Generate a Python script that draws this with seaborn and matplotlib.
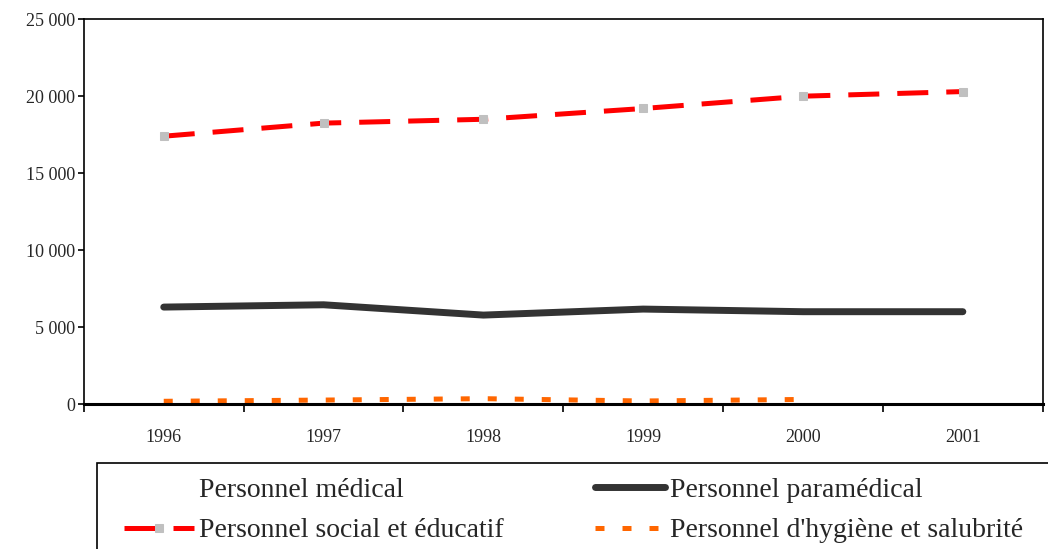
import numpy as np
import pandas as pd
import matplotlib
matplotlib.use('Agg')
import matplotlib.pyplot as plt
import matplotlib.ticker as mticker
from matplotlib.patches import Rectangle
import seaborn as sns

# --------------------------
# Data
# --------------------------
years = [1996, 1997, 1998, 1999, 2000, 2001]
medical = [np.nan, np.nan, np.nan, np.nan, np.nan, np.nan]   # no visible line
paramedical = [6300, 6450, 5780, 6170, 6000, 6000]
social = [17400, 18250, 18500, 19200, 20000, 20300]
hygiene = [180, 260, 350, 200, 300, np.nan]

labels = ['Personnel médical', 'Personnel paramédical',
          'Personnel social et éducatif', "Personnel d'hygiène et salubrité"]

df = pd.DataFrame({'year': years, 'medical': medical, 'paramedical': paramedical,
                   'social': social, 'hygiene': hygiene})

# --------------------------
# Style
# --------------------------
sns.set_theme(style='white')
plt.rcParams['font.family'] = ['Liberation Serif', 'DejaVu Serif']

fig = plt.figure(figsize=(10.48, 5.49), dpi=100)
ax = fig.add_axes([0.080, 0.264, 0.915, 0.701])

sns.lineplot(data=df, x='year', y='medical', ax=ax, color='white', linewidth=0,
             label=labels[0])
sns.lineplot(data=df, x='year', y='paramedical', ax=ax, color='#333333',
             linewidth=5, solid_capstyle='round', label=labels[1])
sns.lineplot(data=df, x='year', y='social', ax=ax, color='#FF0000', linewidth=3.6,
             marker='s', markersize=5.5, markerfacecolor='#C0C0C0',
             markeredgecolor='#C0C0C0', label=labels[2])
ax.lines[-1].set_dashes([6.2, 3.6])
ax.lines[-1].set_dash_capstyle('butt')
sns.lineplot(data=df, x='year', y='hygiene', ax=ax, color='#FF6600', linewidth=3.6,
             label=labels[3], zorder=1)
ax.lines[-1].set_dashes([1.8, 3.6])
ax.lines[-1].set_dash_capstyle('butt')

# Axes
ax.set_xlim(1995.5, 2001.5)
ax.set_ylim(0, 25000)
ax.set_xticks(np.arange(1995.5, 2002, 1))
ax.set_xticklabels([])
ax.set_xticks(years, minor=True)
ax.set_xticklabels([str(y) for y in years], minor=True)
ax.tick_params(axis='x', which='major', direction='out', length=6, width=1.2,
               color='black', bottom=True)
ax.tick_params(axis='x', which='minor', length=0, pad=18, labelsize=13)
ax.set_yticks(np.arange(0, 25001, 5000))
ax.yaxis.set_major_formatter(mticker.FuncFormatter(
    lambda v, p: f'{int(v):,}'.replace(',', ' ')))
ax.tick_params(axis='y', direction='out', length=4.5, width=1.2, color='black',
               left=True, labelsize=13, pad=2)
ax.set_xlabel('')
ax.set_ylabel('')
for s in ax.spines.values():
    s.set_color('black')
    s.set_linewidth(1.2)
    s.set_zorder(3)
ax.spines['bottom'].set_linewidth(2.2)

# Legend (row-major order: médical, paramédical / social, hygiène)
handles, labs = ax.get_legend_handles_labels()
ax.get_legend().remove()
order = [0, 2, 1, 3]
leg = fig.legend([handles[i] for i in order], [labs[i] for i in order],
                 loc='upper left', bbox_to_anchor=(0.118, 0.130),
                 ncol=2, frameon=False,
                 fontsize=20, handlelength=2.55, handletextpad=0.18,
                 columnspacing=3.25, borderpad=0, labelspacing=0.53,
                 numpoints=1, borderaxespad=0)
# legend box running off the right and bottom edges
fig.patches.append(Rectangle((0.0925, -0.2), 1.0, 0.357, transform=fig.transFigure,
                             fill=False, edgecolor='black', linewidth=1.2,
                             clip_on=False))

fig.savefig('out.png', dpi=100, facecolor='white')
